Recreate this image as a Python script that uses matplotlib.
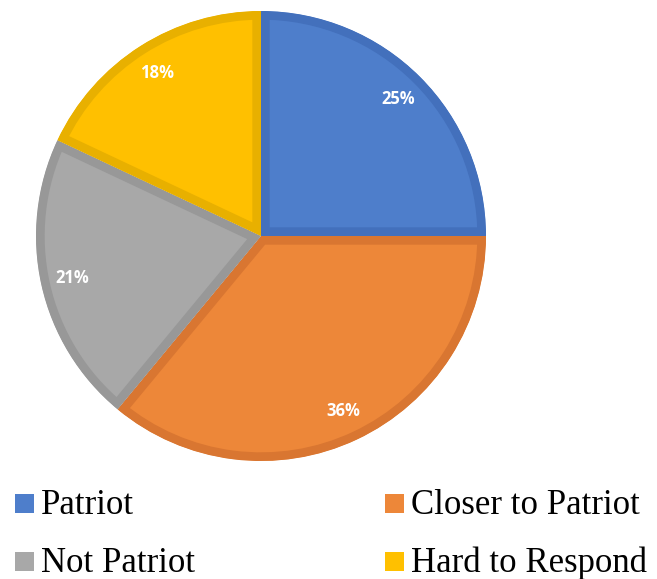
import matplotlib
matplotlib.use("Agg")
import matplotlib.pyplot as plt
from matplotlib.patches import Rectangle

labels = ["Patriot", "Closer to Patriot", "Not Patriot", "Hard to Respond"]
values = [25, 36, 21, 18]
fills = ["#4E7ECB", "#ED8739", "#A8A8A8", "#FFC000"]
edges = ["#4370BC", "#D97631", "#989898", "#E8B000"]

W, H = 657, 579
fig = plt.figure(figsize=(W / 100, H / 100), dpi=100)
cx, cy, r = 261, 236, 225
ax = fig.add_axes([(cx - r) / W, (H - cy - r) / H, 2 * r / W, 2 * r / H])
wedges, texts, autotexts = ax.pie(
    values, colors=fills, startangle=90, counterclock=False,
    autopct="%d%%", pctdistance=0.86, radius=1,
    wedgeprops=dict(linewidth=0),
    textprops=dict(color="white", fontsize=12, fontweight="bold", family="Open Sans"))
for w, ec in zip(wedges, edges):
    w.set_edgecolor(ec)
    w.set_linewidth(12.5)
    w.set_clip_on(True)
    w.set_clip_path(w)
ax.set_xlim(-1, 1)
ax.set_ylim(-1, 1)
ax.set_aspect("equal")
ax.axis("off")

# legend
pos = [(15, 503), (385, 503), (15, 561), (385, 561)]
for (x, y), lab, col in zip(pos, labels, fills):
    fig.patches.append(Rectangle((x / W, (H - y - 9.5) / H), 19 / W, 19 / H,
                                 transform=fig.transFigure, facecolor=col, edgecolor="none"))
    fig.text((x + 26) / W, (H - y - 10.5) / H, lab, family="Liberation Serif", fontsize=25,
             va="baseline", ha="left", color="black")

fig.savefig("out.png", dpi=100)
